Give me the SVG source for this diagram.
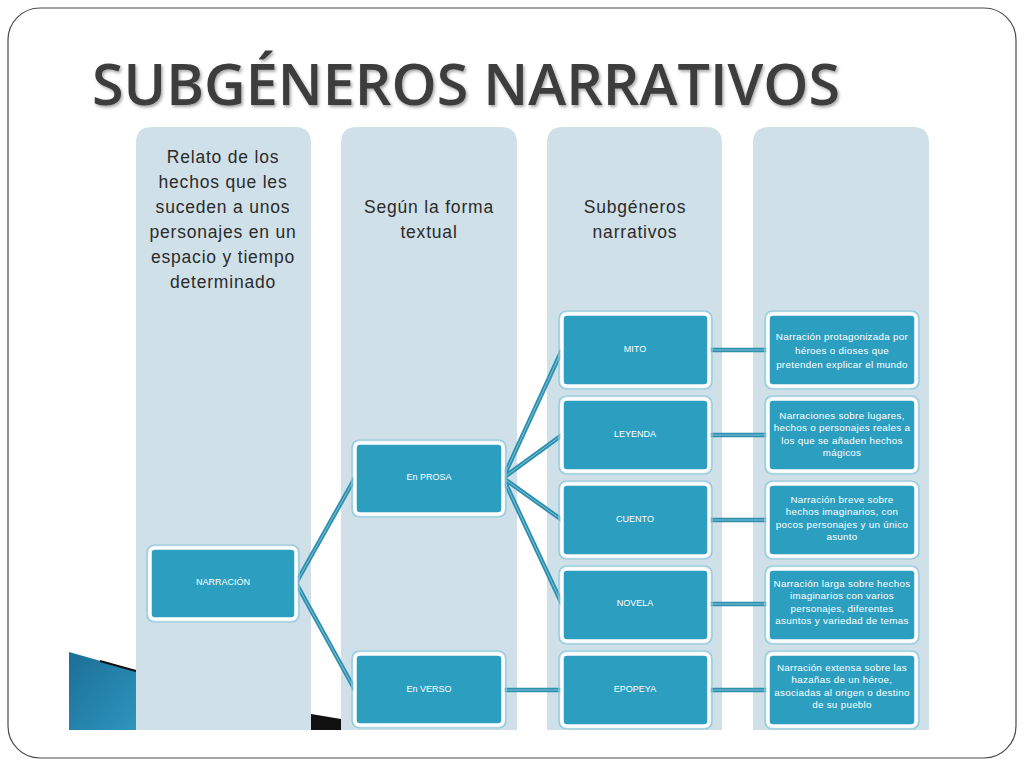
<svg xmlns="http://www.w3.org/2000/svg" width="1024" height="768" viewBox="0 0 1024 768">
<defs>
<style>
.col{fill:#cfe0e8}
.hdr{font-family:"Liberation Sans",Arial,sans-serif;font-size:17.5px;fill:#2b2b2b;text-anchor:middle;letter-spacing:0.8px}
.box{fill:#2c9fc1;stroke:#ffffff;stroke-width:3.5}
.halo{fill:none;stroke:#8ccbdc;stroke-width:1.2}
.lbl{font-family:"Liberation Sans",Arial,sans-serif;font-size:9px;fill:#ffffff;text-anchor:middle;dominant-baseline:middle}
.desc{font-family:"Liberation Sans",Arial,sans-serif;font-size:9.8px;fill:#ffffff;text-anchor:middle;dominant-baseline:middle;letter-spacing:0.3px}
.cw{fill:none;stroke:#2f8fae;stroke-width:4.5;stroke-linecap:butt}
.ci{fill:none;stroke:#7cc3d8;stroke-width:1}
</style>
<linearGradient id="bg" x1="0" y1="0" x2="1" y2="1">
<stop offset="0" stop-color="#1b6e97"/>
<stop offset="1" stop-color="#2e95bd"/>
</linearGradient>
<filter id="sh" x="-5%" y="-20%" width="110%" height="140%">
<feDropShadow dx="1.5" dy="2" stdDeviation="1.5" flood-color="#000" flood-opacity="0.35"/>
</filter>
</defs>
<rect x="0" y="0" width="1024" height="768" fill="#ffffff"/>
<rect x="8" y="8" width="1008" height="750" rx="32" ry="32" fill="#ffffff" stroke="#4a4a4a" stroke-width="1.2"/>
<g id="title">
<text x="92" y="105" font-family="'Open Sans','Liberation Sans',sans-serif" font-size="58" font-weight="600" fill="#3c3c3c" textLength="748" lengthAdjust="spacingAndGlyphs" filter="url(#sh)">SUBGÉNEROS NARRATIVOS</text>
</g>
<g id="background">
<polygon points="69,652 136,671 136,730 69,730" fill="url(#bg)"/>
<line x1="100" y1="661" x2="136" y2="671" stroke="#111" stroke-width="2"/>
<polygon points="311,714 341,719 341,730 311,730" fill="#111"/>
</g>
<g id="columns">
<path class="col" d="M136,730 V143 Q136,127 152,127 H295 Q311,127 311,143 V730 Z"/>
<path class="col" d="M341,730 V143 Q341,127 357,127 H501 Q517,127 517,143 V730 Z"/>
<path class="col" d="M547,730 V143 Q547,127 563,127 H706 Q722,127 722,143 V730 Z"/>
<path class="col" d="M753,730 V143 Q753,127 769,127 H913 Q929,127 929,143 V730 Z"/>
<text class="hdr" x="223" y="163">Relato de los</text>
<text class="hdr" x="223" y="188">hechos que les</text>
<text class="hdr" x="223" y="213">suceden a unos</text>
<text class="hdr" x="223" y="238">personajes en un</text>
<text class="hdr" x="223" y="263">espacio y tiempo</text>
<text class="hdr" x="223" y="288">determinado</text>
<text class="hdr" x="429" y="213">Según la forma</text>
<text class="hdr" x="429" y="238">textual</text>
<text class="hdr" x="635" y="213">Subgéneros</text>
<text class="hdr" x="635" y="238">narrativos</text>
</g>
<g id="connectors">
<path class="cw" d="M296,583 L355,478 M296,583 L355,690 M503,478 L562,350 M503,478 L562,435 M503,478 L562,520 M503,478 L562,604 M503,690 L562,690 M709,350 H768 M709,435 H768 M709,520 H768 M709,604 H768 M709,690 H768"/>
<path class="ci" d="M296,583 L355,478 M296,583 L355,690 M503,478 L562,350 M503,478 L562,435 M503,478 L562,520 M503,478 L562,604 M503,690 L562,690 M709,350 H768 M709,435 H768 M709,520 H768 M709,604 H768 M709,690 H768"/>
</g>
<g id="n-narracion">
<rect class="halo" x="147" y="545" width="152" height="77" rx="7"/>
<rect class="box" x="150" y="548" width="146" height="71" rx="5"/>
<text class="lbl" x="223" y="583">NARRACIÓN</text>
</g>
<g id="n-prosa">
<rect class="halo" x="352" y="440" width="154" height="77" rx="7"/>
<rect class="box" x="355" y="443" width="148" height="71" rx="5"/>
<text class="lbl" x="429" y="478">En PROSA</text>
</g>
<g id="n-verso">
<rect class="halo" x="352" y="651" width="154" height="77" rx="7"/>
<rect class="box" x="355" y="654" width="148" height="71" rx="5"/>
<text class="lbl" x="429" y="690">En VERSO</text>
</g>
<g id="n-mito">
<rect class="halo" x="559" y="311" width="153" height="78" rx="7"/>
<rect class="box" x="562" y="314" width="147" height="72" rx="5"/>
<text class="lbl" x="635" y="350">MITO</text>
</g>
<g id="n-leyenda">
<rect class="halo" x="559" y="396" width="153" height="78" rx="7"/>
<rect class="box" x="562" y="399" width="147" height="72" rx="5"/>
<text class="lbl" x="635" y="435">LEYENDA</text>
</g>
<g id="n-cuento">
<rect class="halo" x="559" y="481" width="153" height="78" rx="7"/>
<rect class="box" x="562" y="484" width="147" height="72" rx="5"/>
<text class="lbl" x="635" y="520">CUENTO</text>
</g>
<g id="n-novela">
<rect class="halo" x="559" y="566" width="153" height="78" rx="7"/>
<rect class="box" x="562" y="569" width="147" height="72" rx="5"/>
<text class="lbl" x="635" y="604">NOVELA</text>
</g>
<g id="n-epopeya">
<rect class="halo" x="559" y="651" width="153" height="78" rx="7"/>
<rect class="box" x="562" y="654" width="147" height="72" rx="5"/>
<text class="lbl" x="635" y="690">EPOPEYA</text>
</g>
<g id="d-mito">
<rect class="halo" x="765" y="311" width="154" height="78" rx="7"/>
<rect class="box" x="768" y="314" width="148" height="72" rx="5"/>
<text class="desc" x="842" y="337">Narración protagonizada por</text>
<text class="desc" x="842" y="351">héroes o dioses que</text>
<text class="desc" x="842" y="365">pretenden explicar el mundo</text>
</g>
<g id="d-leyenda">
<rect class="halo" x="765" y="396" width="154" height="78" rx="7"/>
<rect class="box" x="768" y="399" width="148" height="72" rx="5"/>
<text class="desc" x="842" y="416">Narraciones sobre lugares,</text>
<text class="desc" x="842" y="428.5">hechos o personajes reales a</text>
<text class="desc" x="842" y="441">los que se añaden hechos</text>
<text class="desc" x="842" y="453.5">mágicos</text>
</g>
<g id="d-cuento">
<rect class="halo" x="765" y="481" width="154" height="78" rx="7"/>
<rect class="box" x="768" y="484" width="148" height="72" rx="5"/>
<text class="desc" x="842" y="500">Narración breve sobre</text>
<text class="desc" x="842" y="512.5">hechos imaginarios, con</text>
<text class="desc" x="842" y="525">pocos personajes y un único</text>
<text class="desc" x="842" y="537.5">asunto</text>
</g>
<g id="d-novela">
<rect class="halo" x="765" y="566" width="154" height="78" rx="7"/>
<rect class="box" x="768" y="569" width="148" height="72" rx="5"/>
<text class="desc" x="842" y="584">Narración larga sobre hechos</text>
<text class="desc" x="842" y="596.5">imaginarios con varios</text>
<text class="desc" x="842" y="609">personajes, diferentes</text>
<text class="desc" x="842" y="621.5">asuntos y variedad de temas</text>
</g>
<g id="d-epopeya">
<rect class="halo" x="765" y="651" width="154" height="78" rx="7"/>
<rect class="box" x="768" y="654" width="148" height="72" rx="5"/>
<text class="desc" x="842" y="668">Narración extensa sobre las</text>
<text class="desc" x="842" y="680.5">hazañas de un héroe,</text>
<text class="desc" x="842" y="693">asociadas al origen o destino</text>
<text class="desc" x="842" y="705.5">de su pueblo</text>
</g>
</svg>
